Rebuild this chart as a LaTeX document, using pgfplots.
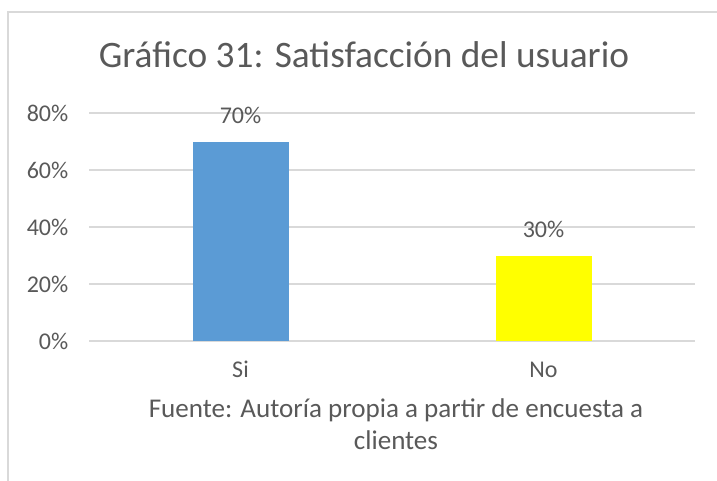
\documentclass[border=0pt]{standalone}
\usepackage{pgfplots}
\pgfplotsset{compat=1.18}
\usepackage{fontspec}
\setmainfont{Carlito}
\definecolor{txt}{HTML}{595959}
\definecolor{gridgray}{HTML}{D9D9D9}
\definecolor{barblue}{HTML}{5B9BD5}
\definecolor{baryellow}{HTML}{FFFF00}
\begin{document}
\begin{tikzpicture}
\useasboundingbox (0,0) rectangle (537.75pt,-360.75pt);
\draw[gridgray, line width=1.3pt] (6pt,-360.75pt) -- (6pt,-9pt) -- (537.75pt,-9pt);
\node[txt, font=\fontsize{28}{33}\selectfont] at (273pt,-41.25pt) {Gráfico 31: Satisfacción del usuario};
\begin{axis}[
  at={(66.75pt,-255.75pt)}, anchor=south west,
  scale only axis, width=454.5pt, height=171pt,
  xmin=-0.5, xmax=1.5, ymin=0, ymax=80,
  xtick={0,1}, xticklabels={Si,No},
  ytick={0,20,40,60,80}, yticklabels={0\%,20\%,40\%,60\%,80\%},
  xmajorgrids=false, ymajorgrids=true, grid style={draw=gridgray, line width=1pt},
  axis line style={draw=none},
  tick style={draw=none}, major tick length=0pt,
  ticklabel style={txt, font=\fontsize{18}{22}\selectfont},
  yticklabel style={anchor=east, xshift=-12pt},
  xticklabel style={anchor=center, yshift=-21.5pt},
  /pgf/number format/assume math mode=true,
  ybar, bar width=72pt,
  nodes near coords={\pgfmathprintnumber\pgfplotspointmeta\%},
  nodes near coords style={txt, font=\fontsize{18}{22}\selectfont, anchor=center, yshift=19.5pt},
]
\addplot[fill=barblue, draw=none, bar shift=0pt] coordinates {(0,70)};
\addplot[fill=baryellow, draw=none, bar shift=0pt] coordinates {(1,30)};
\end{axis}
\node[txt, font=\fontsize{20.3}{24}\selectfont] at (297pt,-307.5pt) {Fuente: Autoría propia a partir de encuesta a};
\node[txt, font=\fontsize{20.3}{24}\selectfont] at (297pt,-330pt) {clientes};
\end{tikzpicture}
\end{document}
